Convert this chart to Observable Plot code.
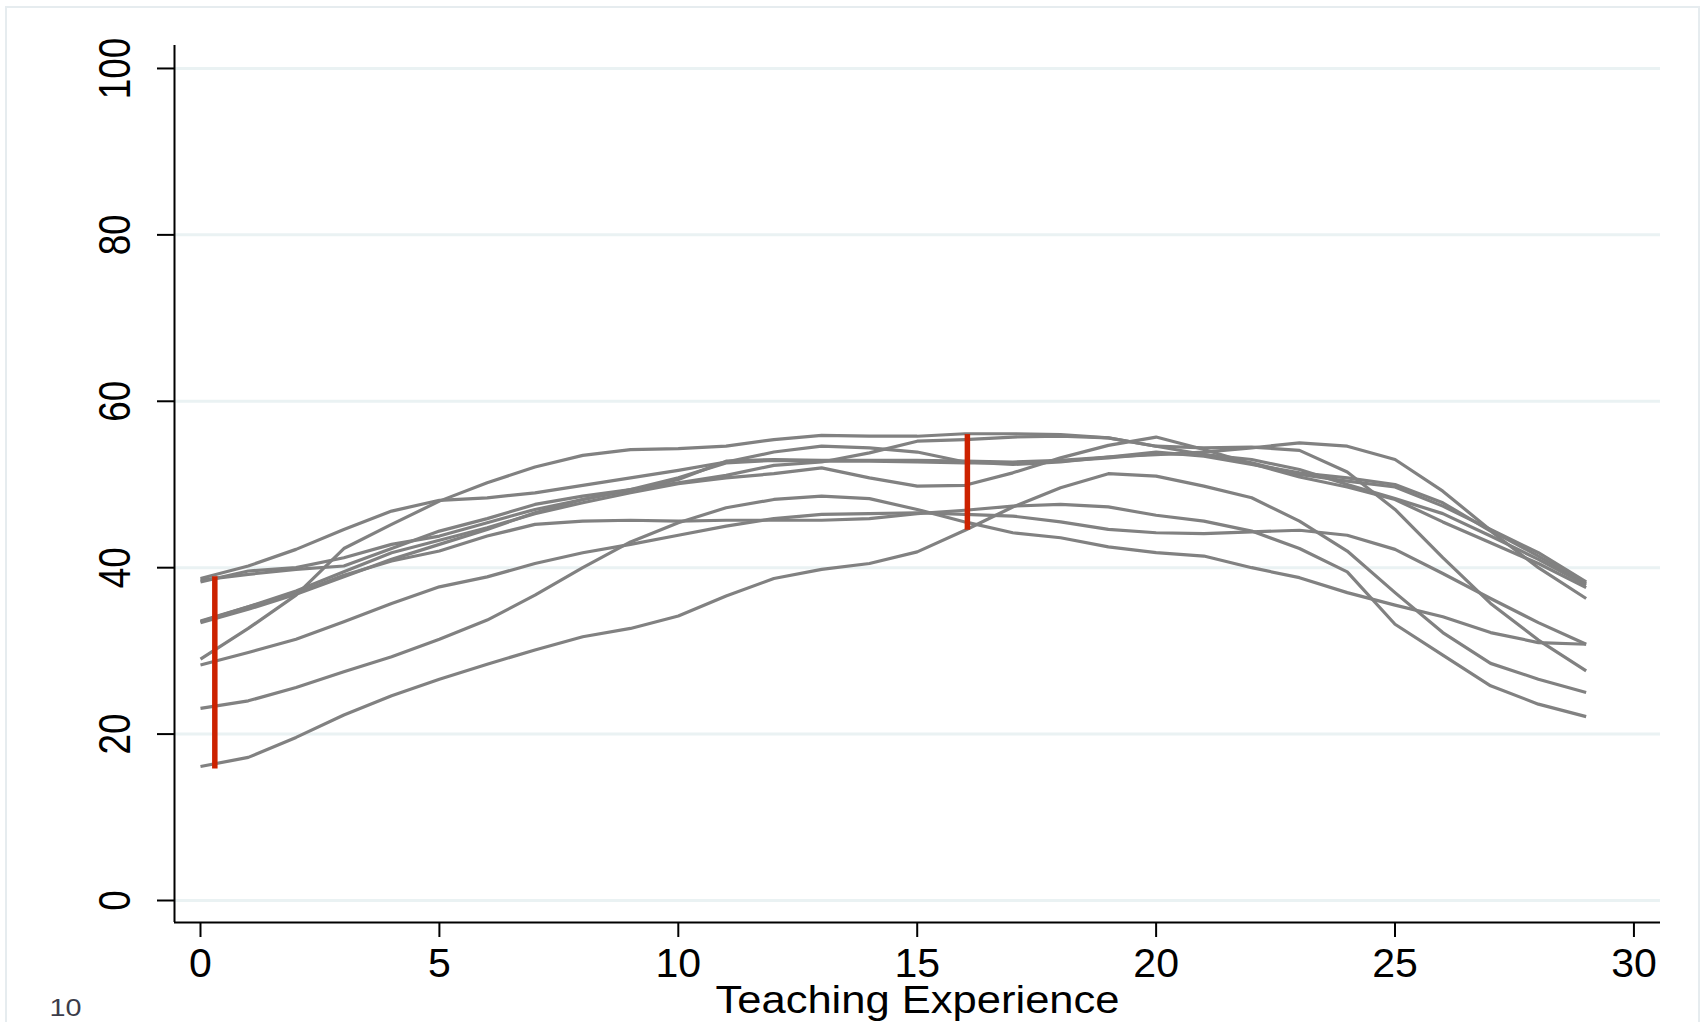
<!DOCTYPE html>
<html>
<head>
<meta charset="utf-8">
<script src="https://cdn.jsdelivr.net/npm/d3@7"></script>
<script src="https://cdn.jsdelivr.net/npm/@observablehq/plot@0.6"></script>
<style>
  html, body { margin: 0; padding: 0; background: #fff; overflow: hidden; }
  #wrap { position: relative; width: 1707px; height: 1022px; overflow: hidden; }
  #border { position: absolute; left: 5px; top: 6px; width: 1695px; height: 1040px;
            border: 2px solid #e6ecef; pointer-events: none; box-sizing: border-box; }
</style>
</head>
<body>
<div id="wrap"><div id="chart"></div><div id="border"></div></div>
<script>
// ---- data ----
const xs = [0,1,2,3,4,5,6,7,8,9,10,11,12,13,14,15,16,17,18,19,20,21,22,23,24,25,26,27,28,29];

const lineF = [29.0,32.7,36.7,42.3,45.2,48.0,50.2,52.1,53.5,54.2,54.3,54.6,55.4,55.9,55.8,55.8,56.1,56.1,56.0,55.6,54.6,53.6,52.6,51.2,50.4,49.7,47.4,44.6,41.8,38.3];
const lineB = [38.7,40.2,42.2,44.6,46.8,48.1,48.4,49.0,49.9,50.8,51.7,52.7,53.9,54.6,54.4,53.9,52.7,52.4,52.7,53.3,53.9,53.4,52.4,51.4,50.8,50.0,47.8,44.4,40.0,36.3];
const lineC = [38.5,39.2,39.8,40.2,42.3,44.4,45.9,47.6,48.6,49.4,50.2,51.1,52.3,52.7,53.8,55.2,55.4,55.7,55.8,55.6,54.6,54.4,54.5,54.1,51.5,47.0,41.2,35.7,31.3,27.6];
const lineR = [33.6,35.3,37.2,39.5,41.8,43.3,44.8,46.5,47.8,49.0,50.1,50.8,51.3,52.0,50.8,49.8,49.9,51.4,53.2,54.7,55.7,54.2,52.5,50.9,49.7,48.2,45.5,43.0,40.5,37.6];
const lineP = [38.3,39.6,40.0,41.2,42.8,43.8,45.4,47.0,48.2,49.3,50.6,52.8,53.0,52.9,52.9,52.9,52.8,52.7,52.9,53.3,53.6,53.9,54.4,55.0,54.6,53.0,49.2,44.5,41.4,38.1];
const lineD = [33.4,35.0,36.8,38.9,41.0,42.8,44.6,46.6,48.2,49.4,50.8,52.6,52.9,52.8,52.8,52.7,52.6,52.6,52.8,53.2,53.7,53.6,53.0,51.8,50.0,48.3,46.5,43.8,41.0,37.9];
const lineW = [33.5,35.3,36.9,39.1,40.8,42.0,43.8,45.2,45.6,45.7,45.6,45.7,45.7,45.7,45.9,46.5,46.9,47.4,47.6,47.3,46.3,45.6,44.4,42.3,39.5,33.2,29.5,25.8,23.6,22.1];
const lineG = [28.3,29.8,31.4,33.5,35.7,37.7,38.9,40.5,41.8,42.8,43.9,45.0,45.9,46.4,46.5,46.6,46.4,46.2,45.5,44.6,44.2,44.1,44.3,44.5,43.9,42.2,39.3,36.3,33.4,30.8];
const lineH = [23.1,24.0,25.6,27.5,29.3,31.4,33.7,36.7,40.0,43.1,45.4,47.2,48.2,48.6,48.3,47.0,45.5,44.2,43.6,42.5,41.8,41.4,40.0,38.8,37.0,35.5,34.1,32.2,31.0,30.8];
const lineI = [16.1,17.2,19.6,22.3,24.6,26.6,28.4,30.1,31.7,32.7,34.2,36.6,38.7,39.8,40.5,41.9,44.5,47.3,49.6,51.3,51.0,49.8,48.4,45.6,42.0,37.0,32.2,28.5,26.6,25.0];

const seriesNames  = ["F","B","C","R","P","D","W","G","H","I"];
const seriesValues = [lineF,lineB,lineC,lineR,lineP,lineD,lineW,lineG,lineH,lineI];

// red range bars
const barX    = [0.3, 16.05];
const barLow  = [15.8, 44.5];
const barHigh = [38.9, 56.0];

const xTicks = [0,5,10,15,20,25,30];
const yTicks = [0,20,40,60,80,100];
const xTitle = "Teaching Experience";
const strayLabel = ["10"];

// ---- build table ----
const rows = seriesValues.flatMap((vals, k) => xs.map((x, i) => ({series: seriesNames[k], x, y: vals[i]})));
const bars = barX.map((x, i) => ({x, y1: barLow[i], y2: barHigh[i]}));

const xDomain = [-0.544, 30.556];
const yDomain = [-2.644, 102.76];
const font = "'Liberation Sans', Arial, Helvetica, sans-serif";

const chart = Plot.plot({
  width: 1707,
  height: 1022,
  marginLeft: 174,
  marginRight: 47,
  marginTop: 45,
  marginBottom: 100,
  style: {fontFamily: font, background: "white", color: "black", overflow: "visible"},
  x: {domain: xDomain, nice: false},
  y: {domain: yDomain, nice: false},
  marks: [
    Plot.gridY(yTicks, {stroke: "#eaf2f3", strokeOpacity: 1, strokeWidth: 3}),
    Plot.line(rows, {x: "x", y: "y", z: "series", stroke: "#818181", strokeWidth: 3.2,
                     strokeLinejoin: "round", strokeLinecap: "butt"}),
    Plot.ruleX(bars, {x: "x", y1: "y1", y2: "y2", stroke: "#cc2200", strokeWidth: 5.5}),
    Plot.ruleX([xDomain[0]], {stroke: "black", strokeWidth: 2}),
    Plot.ruleY([yDomain[0]], {stroke: "black", strokeWidth: 2}),
    Plot.axisX({ticks: xTicks, tickSize: 15, tickPadding: 10, fontSize: 41, strokeWidth: 2, label: null}),
    Plot.axisY({ticks: yTicks, tickSize: 17, tickFormat: () => "", strokeWidth: 2, label: null}),
    Plot.text(yTicks, {y: d => d, text: d => String(d), frameAnchor: "left", dx: -59, rotate: -90,
                       fontSize: 45, textAnchor: "middle", lineAnchor: "middle", fill: "black", ariaLabel: () => "ylabels"}),
    Plot.text([xTitle], {frameAnchor: "bottom", dy: 90, fontSize: 38, lineAnchor: "bottom", fill: "black", ariaLabel: () => "xtitle"}),
    Plot.text(strayLabel, {frameAnchor: "bottom-left", dx: -125, dy: 93, fontSize: 23, textAnchor: "start",
                           lineAnchor: "bottom", fill: "#3c3c4a", ariaLabel: () => "stray"})
  ]
});

document.getElementById("chart").appendChild(chart);

// condensed look of the rotated y tick labels, stretched title
const svgSel = d3.select(chart.tagName.toLowerCase() === "svg" ? chart : chart.querySelector("svg"));
svgSel.selectAll("text").each(function() {
  const lab = this.getAttribute("aria-label");
  const t = this.textContent;
  if (lab === "ylabels") {
    this.setAttribute("textLength", t.length * 20.5);
    this.setAttribute("lengthAdjust", "spacingAndGlyphs");
  } else if (lab === "xtitle") {
    this.setAttribute("textLength", 404);
    this.setAttribute("lengthAdjust", "spacingAndGlyphs");
  } else if (lab === "stray") {
    this.setAttribute("textLength", 32);
    this.setAttribute("lengthAdjust", "spacingAndGlyphs");
  }
});
</script>
</body>
</html>
